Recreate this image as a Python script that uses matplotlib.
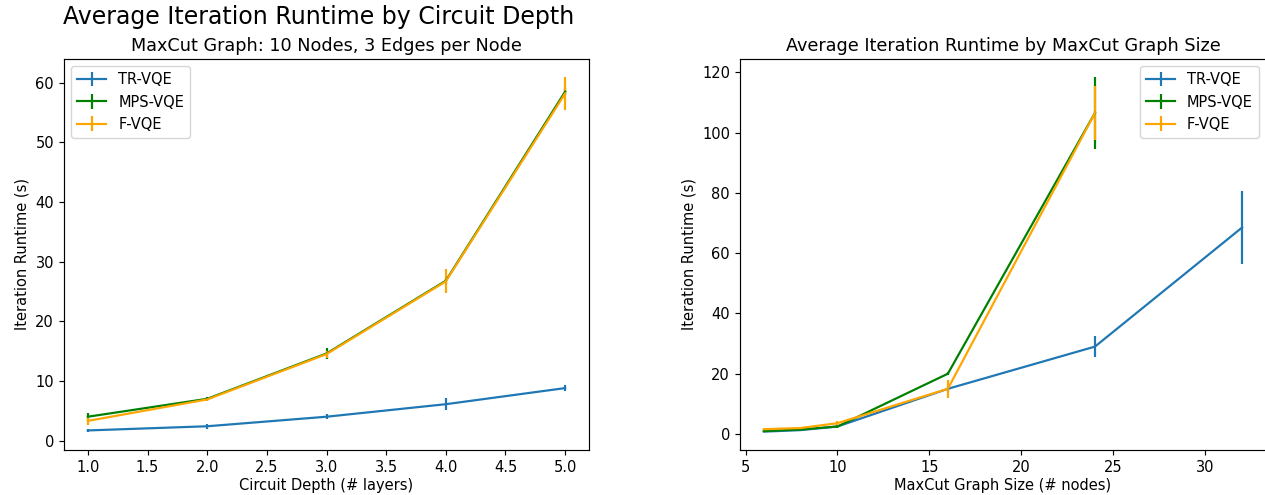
import matplotlib
matplotlib.use("Agg")
import matplotlib.pyplot as plt

# left panel: runtime vs circuit depth
depth = [1, 2, 3, 4, 5]
tr_depth = [1.7, 2.4, 4.0, 6.1, 8.8]
tr_depth_err = [0.3, 0.4, 0.4, 1.0, 0.5]
mps_depth = [4.0, 7.0, 14.6, 26.8, 58.5]
mps_depth_err = [0.6, 0.3, 0.9, 0.5, 0.6]
f_depth = [3.3, 6.9, 14.5, 26.7, 58.2]
f_depth_err = [0.7, 0.3, 0.6, 2.0, 2.8]

# right panel: runtime vs graph size
nodes_tr = [6, 8, 10, 16, 24, 32]
tr_size = [0.8, 1.3, 2.5, 15.0, 29.0, 68.5]
tr_size_err = [0.2, 0.3, 0.5, 1.0, 3.5, 12.0]
nodes_other = [6, 8, 10, 16, 24]
mps_size = [1.0, 1.5, 2.5, 20.0, 106.5]
mps_size_err = [0.2, 0.3, 0.5, 0.5, 12.0]
f_size = [1.6, 2.0, 3.6, 15.0, 106.5]
f_size_err = [0.3, 0.3, 0.8, 3.0, 9.0]

# reference looks rendered ~5% larger than default
s = 1.055
plt.rcParams.update({
    "font.size": 10 * s,
    "lines.linewidth": 1.5 * s,
    "axes.linewidth": 0.8 * s,
    "xtick.major.size": 3.5 * s,
    "ytick.major.size": 3.5 * s,
    "xtick.major.width": 0.8 * s,
    "ytick.major.width": 0.8 * s,
})

W, H = 1265, 495
fig = plt.figure(figsize=(W / 100, H / 100), dpi=100)
ax1 = fig.add_axes([64 / W, 45 / H, 525 / W, 391 / H])
ax2 = fig.add_axes([740 / W, 45 / H, 526 / W, 391 / H])

ax1.errorbar(depth, tr_depth, yerr=tr_depth_err, label="TR-VQE", color="tab:blue")
ax1.errorbar(depth, mps_depth, yerr=mps_depth_err, label="MPS-VQE", color="green")
ax1.errorbar(depth, f_depth, yerr=f_depth_err, label="F-VQE", color="orange")
ax1.set_title("MaxCut Graph: 10 Nodes, 3 Edges per Node")
ax1.set_xlabel("Circuit Depth (# layers)", labelpad=2)
ax1.set_ylabel("Iteration Runtime (s)")
ax1.legend(loc="upper left")
fig.text(319 / W, 1 - 17 / H, "Average Iteration Runtime by Circuit Depth",
         ha="center", va="center", fontsize=17)

ax2.errorbar(nodes_tr, tr_size, yerr=tr_size_err, label="TR-VQE", color="tab:blue")
ax2.errorbar(nodes_other, mps_size, yerr=mps_size_err, label="MPS-VQE", color="green")
ax2.errorbar(nodes_other, f_size, yerr=f_size_err, label="F-VQE", color="orange")
ax2.set_title("Average Iteration Runtime by MaxCut Graph Size")
ax2.set_xlabel("MaxCut Graph Size (# nodes)", labelpad=2)
ax2.set_ylabel("Iteration Runtime (s)")
ax2.legend(loc="upper right")

fig.savefig("out.png", dpi=100)
